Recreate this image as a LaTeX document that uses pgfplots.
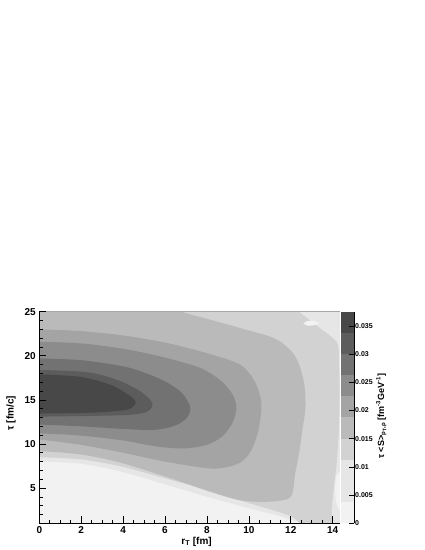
\documentclass[border=0pt]{standalone}
\usepackage{fontspec}
\setmainfont{Liberation Sans}
\usepackage{pgfplots}
\pgfplotsset{compat=1.18}

% grey levels of the contour palette (lowest -> highest)
\definecolor{lv0}{HTML}{F2F2F2}
\definecolor{lv1}{HTML}{E6E6E6}
\definecolor{lv2}{HTML}{D2D2D2}
\definecolor{lv3}{HTML}{BABABA}
\definecolor{lv4}{HTML}{A4A4A4}
\definecolor{lv5}{HTML}{8C8C8C}
\definecolor{lv6}{HTML}{727272}
\definecolor{lv7}{HTML}{5C5C5C}
\definecolor{lv8}{HTML}{484848}

\begin{document}
\begin{tikzpicture}
\path (0pt,0pt) rectangle (425pt,550pt);

\begin{axis}[
    at={(39.3pt,26.7pt)}, anchor=south west,
    width=300.7pt, height=211.6pt, scale only axis,
    xmin=0, xmax=14.35, ymin=1, ymax=25,
    axis x line*=bottom, axis y line*=left,
    axis on top,
    axis background/.style={fill=lv1},
    xtick={0,2,4,6,8,10,12,14},
    minor xtick={0.5,1,...,14},
    ytick={5,10,15,20,25},
    minor ytick={1,2,...,25},
    tick align=inside,
    major tick length=7pt, minor tick length=3.5pt,
    tick style={black, line width=0.6pt},
    /pgf/number format/assume math mode=true,
    tick label style={font=\bfseries\fontsize{10}{12}\selectfont},
    label style={font=\bfseries\fontsize{10}{12}\selectfont},
    xlabel={r\textsubscript{T} [fm]},
    ylabel={τ [fm/c]},
    xlabel style={at={(axis description cs:0.523,-0.087)}, anchor=center},
    ylabel style={at={(axis description cs:-0.094,0.521)}, anchor=center},
]
% lowest level, bottom left
\addplot[fill=lv0, draw=none, smooth] coordinates {
    (-0.5,8.0) (0,8.0) (2,7.75) (4,6.8) (6,5.4) (8,4.0) (10,2.7) (11,2.1) (12,1.4) (12.6,0.5) (-0.5,0.5)
} -- cycle;
% lowest level, bottom right corner
\addplot[fill=lv0, draw=none, smooth] coordinates {
    (14.6,2.3) (14.3,2.6) (14.15,3.5) (14.12,5) (14.2,6.5) (14.6,7.4)
} -- cycle;

% level 2
\addplot[fill=lv2, draw=none, smooth] coordinates {
    (-0.5,26) (12.0,26) (12.45,24.9) (13.3,23.3) (14.2,21.5) (14.3,19) (14.33,16)
    (14.3,12) (14.2,8) (14.05,5) (13.95,2.5) (13.9,0.5) (12.7,0.5)
    (12.1,1.7) (11,2.6) (10,3.3) (8,4.8) (6,6.1) (4,7.4) (2,8.25) (0,8.5) (-0.5,8.5)
} -- cycle;

% level 3
\addplot[fill=lv3, draw=none, smooth] coordinates {
    (-0.5,26) (6.3,26) (6.8,25) (8,24.2) (9.58,23.15) (11.2,22.0) (12.0,20.6)
    (12.4,19.0) (12.65,16.7) (12.7,14.1) (12.55,11.5) (12.4,9) (12.2,6.5)
    (12.1,4.6) (11.9,3.8) (11,3.45) (9.6,3.6) (8,4.7) (6.4,6.0) (4,7.8)
    (2,8.8) (0,9.2) (-0.5,9.25)
} -- cycle;

% level 4
\addplot[fill=lv4, draw=none, smooth] coordinates {
    (-0.5,23.0) (0,23.0) (2,22.8) (4,22.3) (6,21.5) (8,20.3) (9.58,19.0)
    (10.3,17) (10.6,14.5) (10.45,11.5) (10.1,9.2) (9.6,7.9) (8.8,7.3)
    (8,7.25) (6,8.0) (4,9.0) (2,9.9) (0,10.5) (-0.5,10.5)
} -- cycle;

% level 5
\addplot[fill=lv5, draw=none, smooth] coordinates {
    (-0.5,21.6) (0,21.6) (2,21.4) (4,20.8) (6,19.8) (7.7,18.6) (8.7,17.1)
    (9.25,15.5) (9.4,14.0) (9.2,12.3) (8.7,10.8) (8,9.9) (7,9.5) (6,9.6)
    (5,9.95) (4,10.4) (2,10.95) (0,11.2) (-0.5,11.2)
} -- cycle;

% level 6
\addplot[fill=lv6, draw=none, smooth] coordinates {
    (-0.5,19.7) (0,19.7) (2,19.5) (4,18.8) (5,18.1) (6,17.1) (6.8,15.8)
    (7.2,14.2) (7.05,13.0) (6.5,12.1) (5.5,11.6) (4,11.7) (2,12.0) (0,12.2) (-0.5,12.2)
} -- cycle;

% level 7
\addplot[fill=lv7, draw=none, smooth] coordinates {
    (-0.5,18.4) (0,18.4) (2,18.2) (3,17.8) (4,17.0) (4.8,16.0) (5.3,15.0)
    (5.4,14.3) (5.1,13.6) (4.3,13.3) (3,13.2) (0,13.1) (-0.5,13.1)
} -- cycle;

% level 8
\addplot[fill=lv8, draw=none, smooth] coordinates {
    (-0.5,17.9) (0,17.9) (2,17.6) (3.4,16.7) (4.3,15.5) (4.6,14.7)
    (4.2,13.9) (2.5,13.55) (0,13.45) (-0.5,13.45)
} -- cycle;

% small light spot near the top right
\addplot[fill=lv0, draw=none, smooth] coordinates {
    (12.6,23.65) (12.8,23.95) (13.1,23.95) (13.35,23.7) (13.1,23.45) (12.8,23.42)
} -- cycle;

\draw[gray!70, line width=0.8pt] (rel axis cs:0,1) -- (rel axis cs:1,1);
\end{axis}

% palette
\begin{axis}[
    at={(341pt,26.7pt)}, anchor=south west,
    width=13pt, height=211.6pt, scale only axis,
    xmin=0, xmax=1, ymin=0, ymax=0.0375,
    axis x line=none, axis y line*=right,
    axis on top,
    scaled y ticks=false,
    ytick={0,0.005,0.01,0.015,0.02,0.025,0.03,0.035},
    yticklabels={0,0.005,0.01,0.015,0.02,0.025,0.03,0.035},
    tick align=inside, major tick length=5pt,
    tick style={black, line width=0.6pt},
    yticklabel style={font=\bfseries\fontsize{7}{8}\selectfont, inner sep=1pt},
    ylabel={τ <S>\textsubscript{p\textsubscript{T},ρ} [fm\textsuperscript{-3}GeV\textsuperscript{-1}]},
    ylabel style={font=\bfseries\fontsize{9}{11}\selectfont, at={(axis description cs:3.1,0.507)}, anchor=center},
]
\addplot[fill=lv0, draw=none] coordinates {(0,0) (1,0) (1,0.00375) (0,0.00375)} -- cycle;
\addplot[fill=lv1, draw=none] coordinates {(0,0.00375) (1,0.00375) (1,0.01125) (0,0.01125)} -- cycle;
\addplot[fill=lv2, draw=none] coordinates {(0,0.01125) (1,0.01125) (1,0.015) (0,0.015)} -- cycle;
\addplot[fill=lv3, draw=none] coordinates {(0,0.015) (1,0.015) (1,0.01875) (0,0.01875)} -- cycle;
\addplot[fill=lv4, draw=none] coordinates {(0,0.01875) (1,0.01875) (1,0.0225) (0,0.0225)} -- cycle;
\addplot[fill=lv5, draw=none] coordinates {(0,0.0225) (1,0.0225) (1,0.02625) (0,0.02625)} -- cycle;
\addplot[fill=lv6, draw=none] coordinates {(0,0.02625) (1,0.02625) (1,0.03) (0,0.03)} -- cycle;
\addplot[fill=lv7, draw=none] coordinates {(0,0.03) (1,0.03) (1,0.03375) (0,0.03375)} -- cycle;
\addplot[fill=lv8, draw=none] coordinates {(0,0.03375) (1,0.03375) (1,0.0375) (0,0.0375)} -- cycle;
\end{axis}
\end{tikzpicture}
\end{document}
